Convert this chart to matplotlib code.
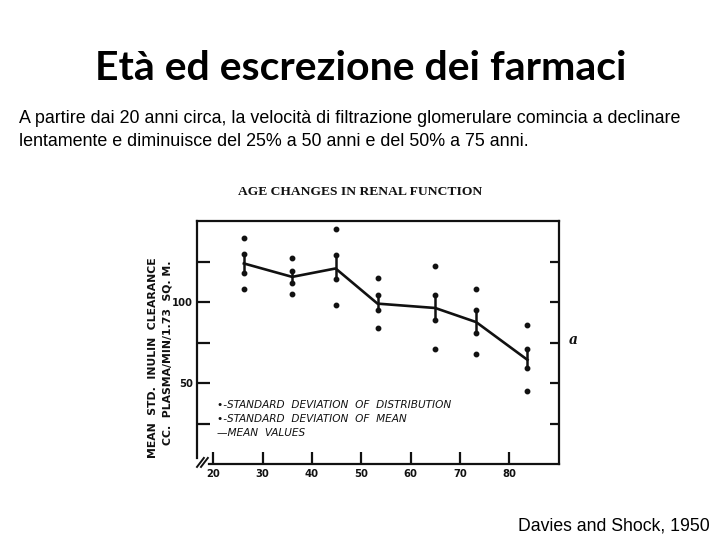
import numpy as np
import matplotlib
matplotlib.use("Agg")
import matplotlib.pyplot as plt

# values (Davies and Shock, 1950)
ages = [26.2, 36.0, 44.8, 53.3, 65.0, 73.3, 83.7]
mean_clearance = [123.8, 115.5, 120.7, 99.0, 96.3, 87.6, 64.3]
se_high = [129.5, 119.0, 129.0, 104.2, 104.6, 95.3, 71.1]
se_low = [117.6, 112.0, 114.0, 94.9, 88.6, 81.0, 59.3]
sd_high = [139.4, 126.9, 145.2, 114.9, 122.1, 108.3, 86.0]
sd_low = [108.1, 104.8, 98.2, 84.1, 71.1, 68.0, 44.8]

x_ticks = [20, 30, 40, 50, 60, 70, 80]
y_ticks = [25, 50, 75, 100, 125]
y_ticklabels = ["", "50", "", "100", ""]

legend_lines = ["\u2022-STANDARD  DEVIATION  OF  DISTRIBUTION",
                "\u2022-STANDARD  DEVIATION  OF  MEAN",
                "\u2014MEAN  VALUES"]

fig = plt.figure(figsize=(7.2, 5.4), dpi=100)
fig.patch.set_facecolor("white")

# slide texts
fig.text(0.501, 1 - 80 / 540, "Età ed escrezione dei farmaci", ha="center", va="baseline",
         fontsize=29.5, fontweight="bold", family="Lato")
sub = ("A partire dai 20 anni circa, la velocità di filtrazione glomerulare comincia a declinare",
       "lentamente e diminuisce del 25% a 50 anni e del 50% a 75 anni.")
fig.text(19 / 720, 1 - 123 / 540, sub[0], ha="left", va="baseline", fontsize=12.9, family="Liberation Sans")
fig.text(19 / 720, 1 - 146 / 540, sub[1], ha="left", va="baseline", fontsize=12.9, family="Liberation Sans")
fig.text(710 / 720, 1 - 530.7 / 540, "Davies and Shock, 1950", ha="right", va="baseline",
         fontsize=12.7, family="Liberation Sans")

# the scanned chart
ax = fig.add_axes([197 / 720, 1 - 464 / 540, 362 / 720, 243 / 540])
xmin, xmax = 16.7, 90.1
ax.set_xlim(xmin, xmax)
ax.set_ylim(0, 150)

ink = "#111111"
for s in ax.spines.values():
    s.set_linewidth(1.6)
    s.set_color(ink)
ax.spines["left"].set_bounds(3.7, 150)
ax.spines["bottom"].set_bounds(19.2, xmax)

# error bars (SE of mean) and dots
for a, lo, hi in zip(ages, se_low, se_high):
    ax.plot([a, a], [lo, hi], color=ink, lw=1.8, solid_capstyle="butt")
ax.plot(ages, se_low, "o", color=ink, ms=3.2)
ax.plot(ages, se_high, "o", color=ink, ms=3.2)
ax.plot(ages, sd_low, "o", color=ink, ms=3.2)
ax.plot(ages, sd_high, "o", color=ink, ms=3.2)
ax.plot(ages, mean_clearance, "-", color=ink, lw=1.9)

ax.set_xticks(x_ticks)
ax.set_xticklabels([str(v) for v in x_ticks], fontweight="bold", fontsize=7.2, color=ink)
ax.set_yticks(y_ticks)
ax.set_yticklabels(y_ticklabels, fontweight="bold", fontsize=7.2, color=ink)
ax.tick_params(axis="x", direction="in", length=8.6, width=1.6, pad=3.5, colors=ink)
ax.tick_params(axis="y", direction="in", length=9.4, width=1.6, pad=3, colors=ink,
               right=True)
for t in ax.yaxis.get_major_ticks():
    t.tick2line.set_markersize(6.5)

# axis break marks
for dx in (0.0, 0.011):
    ax.plot([dx, dx + 0.019], [-0.012, 0.025], color=ink, lw=1.4,
            transform=ax.transAxes, clip_on=False)

for i, txt in enumerate(legend_lines):
    ax.text(0.054, 0.243 - i * 0.057, txt, transform=ax.transAxes, ha="left", va="center",
            fontsize=7.6, fontstyle="italic", color=ink)

fig.text(360 / 720, 1 - 191.7 / 540, "AGE CHANGES IN RENAL FUNCTION", ha="center", va="center",
         fontsize=9.7, fontweight="bold", family="Liberation Serif", color=ink)
fig.text(153 / 720, 1 - 358 / 540, "MEAN  STD.  INULIN  CLEARANCE", rotation=90, ha="center",
         va="center", fontsize=7.8, fontweight="bold", color=ink)
fig.text(167 / 720, 1 - 353 / 540, "CC.  PLASMA/MIN/1.73  SQ. M.", rotation=90, ha="center",
         va="center", fontsize=7.8, fontweight="bold", color=ink)
fig.text(573 / 720, 1 - 340 / 540, "a", ha="center", va="center", fontsize=10,
         fontstyle="italic", fontweight="bold", family="DejaVu Serif", color=ink)

fig.savefig("out.png", dpi=100)
